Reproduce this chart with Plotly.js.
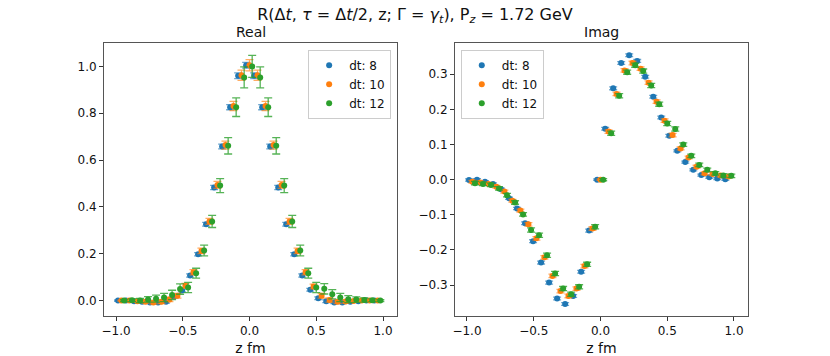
<!DOCTYPE html>
<html>
<head>
<meta charset="utf-8">
<script src="https://cdn.plot.ly/plotly-3.0.1.min.js"></script>
<style>
  html, body { margin: 0; padding: 0; background: #fff; }
  #chart { width: 830px; height: 356px; }
</style>
</head>
<body>
<div id="chart"></div>
<script>
// lattice z values (fm), shared by both panels
const zVals = [-0.96, -0.90, -0.84, -0.78, -0.72, -0.66, -0.60, -0.54, -0.48, -0.42, -0.36, -0.30, -0.24, -0.18, -0.12, -0.06,
  0.00, 0.06, 0.12, 0.18, 0.24, 0.30, 0.36, 0.42, 0.48, 0.54, 0.60, 0.66, 0.72, 0.78, 0.84, 0.90, 0.96];

const dtLabels = ["dt: 8", "dt: 10", "dt: 12"];
const dtShift = [-0.025, 0.0, 0.02];   // small horizontal offset so points don't overlap
const colors = ["#1f77b4", "#ff7f0e", "#2ca02c"];
const errColors = ["rgba(31,119,180,0.65)", "rgba(255,127,14,0.65)", "rgba(44,160,44,0.8)"];

// Real part
const real8 = [0, 0, -0.003, -0.005, -0.008, -0.008, -0.005, 0.017, 0.043, 0.107, 0.198, 0.326, 0.483, 0.658, 0.826, 0.960,
  1.005, 0.960, 0.826, 0.658, 0.483, 0.326, 0.198, 0.107, 0.046, 0.010, -0.003, -0.008, -0.008, -0.005, -0.003, 0, 0];
const real10 = [0, 0, -0.003, -0.005, -0.008, -0.005, 0.005, 0.020, 0.063, 0.121, 0.212, 0.338, 0.494, 0.664, 0.831, 0.962,
  1.005, 0.962, 0.831, 0.664, 0.494, 0.338, 0.212, 0.121, 0.060, 0.020, 0.002, -0.005, -0.004, -0.002, 0, 0, 0];
const real12 = [0, 0.001, 0.000, 0.005, 0.008, 0.013, 0.024, 0.049, 0.056, 0.117, 0.214, 0.338, 0.491, 0.661, 0.826, 0.953,
  1.000, 0.953, 0.826, 0.661, 0.491, 0.338, 0.214, 0.117, 0.056, 0.050, 0.027, 0.013, 0.006, 0.004, 0.002, 0.001, 0];

const realErr8 = [0.003, 0.003, 0.004, 0.004, 0.005, 0.005, 0.006, 0.006, 0.006, 0.007, 0.007, 0.008, 0.009, 0.010, 0.011, 0.012,
  0.012, 0.012, 0.011, 0.010, 0.009, 0.008, 0.007, 0.007, 0.006, 0.006, 0.006, 0.005, 0.005, 0.004, 0.004, 0.003, 0.003];
const realErr10 = [0.002, 0.003, 0.004, 0.006, 0.007, 0.008, 0.009, 0.010, 0.010, 0.011, 0.012, 0.013, 0.015, 0.017, 0.020, 0.022,
  0.024, 0.022, 0.020, 0.017, 0.015, 0.013, 0.012, 0.011, 0.010, 0.010, 0.009, 0.008, 0.007, 0.006, 0.004, 0.003, 0.002];
const realErr12 = [0.004, 0.006, 0.009, 0.012, 0.015, 0.018, 0.020, 0.022, 0.022, 0.021, 0.023, 0.026, 0.030, 0.035, 0.040, 0.045,
  0.047, 0.045, 0.040, 0.035, 0.030, 0.026, 0.023, 0.021, 0.022, 0.022, 0.020, 0.018, 0.015, 0.012, 0.009, 0.006, 0.004];

// Imaginary part
const imag8 = [-0.001, 0.000, -0.006, -0.012, -0.027, -0.053, -0.082, -0.124, -0.175, -0.236, -0.293, -0.338, -0.354, -0.331, -0.262, -0.145,
  0.000, 0.145, 0.260, 0.332, 0.354, 0.338, 0.293, 0.236, 0.177, 0.125, 0.082, 0.050, 0.028, 0.013, 0.007, 0.003, 0.001];
const imag10 = [-0.006, -0.008, -0.012, -0.020, -0.034, -0.060, -0.088, -0.127, -0.167, -0.221, -0.274, -0.317, -0.331, -0.310, -0.246, -0.139,
  0.000, 0.137, 0.244, 0.311, 0.332, 0.316, 0.276, 0.222, 0.168, 0.127, 0.089, 0.063, 0.037, 0.018, 0.016, 0.012, 0.009];
const imag12 = [-0.010, -0.012, -0.015, -0.025, -0.044, -0.065, -0.099, -0.143, -0.158, -0.215, -0.267, -0.310, -0.326, -0.305, -0.241, -0.134,
  0.000, 0.132, 0.239, 0.306, 0.326, 0.309, 0.268, 0.215, 0.160, 0.144, 0.100, 0.068, 0.042, 0.028, 0.018, 0.012, 0.011];

const imagErr8 = [0.003, 0.003, 0.003, 0.003, 0.003, 0.003, 0.003, 0.004, 0.004, 0.004, 0.004, 0.004, 0.004, 0.004, 0.004, 0.004,
  0.002, 0.004, 0.004, 0.004, 0.004, 0.004, 0.004, 0.004, 0.004, 0.004, 0.003, 0.003, 0.003, 0.003, 0.003, 0.003, 0.003];
const imagErr10 = [0.004, 0.004, 0.004, 0.004, 0.004, 0.004, 0.004, 0.005, 0.005, 0.005, 0.005, 0.005, 0.005, 0.005, 0.005, 0.005,
  0.002, 0.005, 0.005, 0.005, 0.005, 0.005, 0.005, 0.005, 0.005, 0.005, 0.004, 0.004, 0.004, 0.004, 0.004, 0.004, 0.004];
const imagErr12 = [0.005, 0.005, 0.005, 0.005, 0.005, 0.005, 0.005, 0.006, 0.006, 0.006, 0.006, 0.006, 0.006, 0.006, 0.006, 0.006,
  0.003, 0.006, 0.006, 0.006, 0.006, 0.006, 0.006, 0.006, 0.006, 0.006, 0.005, 0.005, 0.005, 0.005, 0.005, 0.005, 0.005];

const realSeries = [real8, real10, real12];
const realErrs = [realErr8, realErr10, realErr12];
const imagSeries = [imag8, imag10, imag12];
const imagErrs = [imagErr8, imagErr10, imagErr12];

function makeTrace(i, yv, err, xaxis, yaxis, legend) {
  return {
    x: zVals.map(z => z + dtShift[i]),
    y: yv,
    xaxis: xaxis,
    yaxis: yaxis,
    type: "scatter",
    mode: "markers",
    name: dtLabels[i],
    legend: legend,
    marker: { color: colors[i], size: 6 },
    error_y: { type: "data", array: err, visible: true, color: errColors[i], thickness: 1.3, width: 4 },
    hoverinfo: "x+y"
  };
}

const traces = [];
for (let i = 0; i < 3; i++) traces.push(makeTrace(i, realSeries[i], realErrs[i], "x", "y", "legend"));
for (let i = 0; i < 3; i++) traces.push(makeTrace(i, imagSeries[i], imagErrs[i], "x2", "y2", "legend2"));

const FONT = "DejaVu Sans, Verdana, sans-serif";

const axisBase = {
  showline: true,
  mirror: true,
  linecolor: "#555",
  linewidth: 1,
  ticks: "outside",
  ticklen: 4,
  tickcolor: "#333",
  showgrid: false,
  zeroline: false,
  tickfont: { size: 12, color: "#111" },
  tickformat: ".1f"
};

const legendBase = {
  bgcolor: "rgba(255,255,255,0.9)",
  bordercolor: "#ccc",
  borderwidth: 1,
  font: { size: 12, color: "#111" },
  xanchor: "left",
  yanchor: "top",
  y: 0.975,
  itemwidth: 30,
  tracegroupgap: 0
};

const layout = {
  width: 830,
  height: 356,
  margin: { l: 104, r: 82, t: 43, b: 40 },
  paper_bgcolor: "#fff",
  plot_bgcolor: "#fff",
  font: { family: FONT, color: "#111" },
  showlegend: true,
  title: {
    text: "R(Δ<i>t</i>, <i>τ</i> = Δ<i>t</i>/2, z; Γ = <i>γ</i><sub><i>t</i></sub>), P<sub><i>z</i></sub> = 1.72 GeV",
    font: { size: 16, family: FONT },
    x: 0.5, xanchor: "center",
    y: 0.96, yanchor: "middle"
  },
  xaxis: Object.assign({}, axisBase, {
    domain: [0, 0.455],
    range: [-1.09, 1.105],
    tickvals: [-1.0, -0.5, 0.0, 0.5, 1.0],
    title: { text: "z fm", font: { size: 14 }, standoff: 6 },
    anchor: "y"
  }),
  yaxis: Object.assign({}, axisBase, {
    range: [-0.066, 1.10],
    tickvals: [0.0, 0.2, 0.4, 0.6, 0.8, 1.0],
    anchor: "x"
  }),
  xaxis2: Object.assign({}, axisBase, {
    domain: [0.545, 1],
    range: [-1.09, 1.105],
    tickvals: [-1.0, -0.5, 0.0, 0.5, 1.0],
    title: { text: "z fm", font: { size: 14 }, standoff: 6 },
    anchor: "y2"
  }),
  yaxis2: Object.assign({}, axisBase, {
    range: [-0.388, 0.389],
    tickvals: [-0.3, -0.2, -0.1, 0.0, 0.1, 0.2, 0.3],
    anchor: "x2"
  }),
  legend: Object.assign({}, legendBase, { x: 0.317 }),
  legend2: Object.assign({}, legendBase, { x: 0.554 }),
  annotations: [
    { text: "Real", xref: "x domain", yref: "paper", x: 0.5, y: 1, yanchor: "bottom", yshift: 1,
      showarrow: false, font: { size: 14, family: FONT } },
    { text: "Imag", xref: "x2 domain", yref: "paper", x: 0.5, y: 1, yanchor: "bottom", yshift: 1,
      showarrow: false, font: { size: 14, family: FONT } }
  ]
};

Plotly.newPlot("chart", traces, layout, { displayModeBar: false, staticPlot: true });
</script>
</body>
</html>
